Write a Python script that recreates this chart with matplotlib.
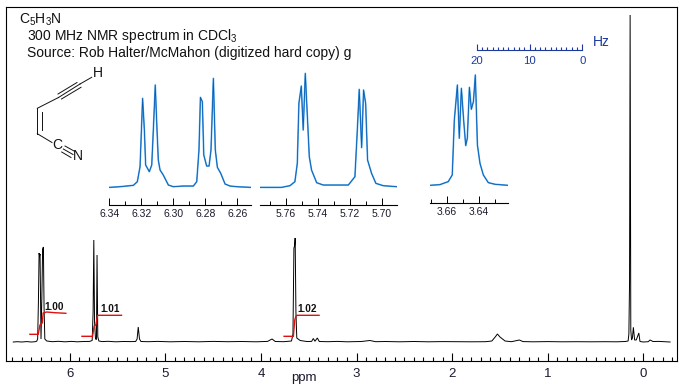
import matplotlib
matplotlib.use('Agg')
import matplotlib.pyplot as plt

plt.rcParams['font.family'] = ['Liberation Sans', 'DejaVu Sans']
plt.rcParams['mathtext.fontset'] = 'custom'
plt.rcParams['mathtext.rm'] = 'Liberation Sans'

W, H = 686, 388

# full spectrum
main_ppm = [6.59, 6.55, 6.50, 6.45, 6.40, 6.36, 6.345, 6.335, 6.327, 6.32, 6.315, 6.31, 6.30, 6.291, 6.283, 6.275,
            6.268, 6.26, 6.24, 6.18, 6.12, 6.05, 5.98, 5.92, 5.85, 5.79, 5.765, 5.755, 5.7477, 5.74, 5.73, 5.72,
            5.714, 5.706, 5.695, 5.66, 5.60, 5.52, 5.44, 5.36, 5.31, 5.295, 5.283, 5.27, 5.255, 5.18, 5.08, 4.95,
            4.8, 4.65, 4.5, 4.35, 4.2, 4.05, 3.93, 3.884, 3.85, 3.76, 3.68, 3.665, 3.655, 3.648, 3.642, 3.634,
            3.625, 3.59, 3.52, 3.47, 3.452, 3.435, 3.41, 3.39, 3.3, 3.2, 3.1, 2.95, 2.86, 2.8, 2.7, 2.55, 2.4,
            2.25, 2.1, 1.95, 1.8, 1.65, 1.585, 1.55, 1.527, 1.50, 1.447, 1.38, 1.297, 1.26, 1.15, 1.0, 0.85, 0.7,
            0.55, 0.4, 0.28, 0.19, 0.16, 0.152, 0.145, 0.139, 0.132, 0.124, 0.115, 0.105, 0.092, 0.075, 0.048,
            0.036, 0.0, -0.05, -0.07, -0.1, -0.16, -0.22, -0.279]
main_h = [0, 0.3, 0, 0.4, 0, 0.3, 0.8, 3, 40, 89, 86, 88, 3, 45, 93, 95,
          35, 3, 1, 0.3, 0.7, 0.2, 0.6, 0.2, 0.5, 0.6, 1.5, 30, 102, 20, 3, 2.5,
          87, 5, 1, 0.4, 0.7, 0.2, 0.5, 0.4, 0.5, 3, 15, 3, 0.5, 0.3, 0.6, 0.2,
          0.5, 0.2, 0.6, 0.3, 0.5, 0.2, 0.6, 3, 0.5, 0.3, 1, 8, 94, 96, 104, 30,
          4, 1.5, 0.5, 0.6, 3.5, 0.7, 4, 0.5, 0.3, 0.6, 0.2, 0.5, 1.5, 0.3, 0.5, 0.2, 0.5,
          0.2, 0.4, 0.3, 0.2, 0.3, 1, 5, 8, 5, 1, 0.3, 2, 0.4, 0.2, 0.4, 0.2, 0.3,
          0.2, 0.3, 0.2, 0.5, 1, 8, 60, 327, 12, 2, 4, 14.7, 2, 2, 9,
          0.5, 0, 0.3, 2, 0.5, 0.6, 0.3, 0]
main_ticks = [6, 5, 4, 3, 2, 1, 0]

# integrals
int1_ppm = [6.416, 6.329, 6.311, 6.287, 6.277, 6.241, 6.155, 6.040]
int1_h = [7.7, 7.7, 17, 19, 29, 30, 29.3, 28.7]
int2_ppm = [5.872, 5.761, 5.744, 5.726, 5.709, 5.458]
int2_h = [5.7, 5.7, 16, 17, 26.7, 26.7]
int3_ppm = [3.758, 3.661, 3.646, 3.633, 3.619, 3.392]
int3_h = [5.7, 5.7, 22, 26, 26.7, 26.7]
int_labels = ['1.00', '1.01', '1.02']

# expansions
zoom1_ppm = [6.3400, 6.3365, 6.3333, 6.3292, 6.3250, 6.3225, 6.3208, 6.3192, 6.3181, 6.3173, 6.3150, 6.3135, 6.3125,
             6.3113, 6.3102, 6.3094, 6.3083, 6.3063, 6.3031, 6.3000, 6.2938, 6.2875, 6.2854, 6.2840, 6.2831, 6.2819,
             6.2810, 6.2792, 6.2777, 6.2765, 6.2750, 6.2738, 6.2725, 6.2704, 6.2677, 6.2646, 6.2604, 6.2563, 6.2517]
zoom1_h = [0, 1, 2, 4, 6, 17, 62, 267, 172, 67, 47, 67, 172, 307, 172, 82, 52, 37, 7, 2, 4, 4, 17, 112, 270, 257,
           97, 64, 64, 112, 327, 112, 60, 42, 10, 4, 2, 1, 0]
zoom2_ppm = [5.7760, 5.7625, 5.7573, 5.7542, 5.7527, 5.7517, 5.7502, 5.7490, 5.7477, 5.7465, 5.7452, 5.7438, 5.7406,
             5.7365, 5.7208, 5.7167, 5.7152, 5.7140, 5.7125, 5.7113, 5.7100, 5.7088, 5.7063, 5.7036, 5.6990, 5.6906]
zoom2_h = [0, 0, 5, 17, 72, 252, 304, 172, 342, 222, 92, 52, 14, 7, 7, 32, 172, 294, 119, 292, 252, 82, 42, 12, 5, 2]
zoom3_ppm = [3.6702, 3.6642, 3.6590, 3.6565, 3.6552, 3.6533, 3.6521, 3.6508, 3.6494, 3.6481, 3.6471, 3.6458, 3.6446,
             3.6433, 3.6421, 3.6408, 3.6392, 3.6371, 3.6340, 3.6298, 3.6219]
zoom3_h = [0, 2, 11, 31, 196, 301, 141, 291, 196, 119, 141, 294, 228, 251, 331, 121, 66, 31, 8, 3, 0]

hz_major = [20, 10, 0]

NAVY = '#1c3a9c'
TXT = '#1a1a2e'


def ax_px(x0, y0, x1, y1):
    return fig.add_axes([x0 / W, 1 - y1 / H, (x1 - x0) / W, (y1 - y0) / H])


fig = plt.figure(figsize=(W / 100, H / 100), dpi=100, facecolor='white')

# main axes, frame is the axes box
ax = ax_px(6, 7.3, 676.5, 361)
ax.plot(main_ppm, main_h, color='black', lw=0.7, solid_joinstyle='miter')
ax.set_xlim(6.666, -0.346)
ax.set_ylim(-19, 334.7)
ax.set_yticks([])
ax.set_xticks(main_ticks)
ax.set_xticks([t / 10 for t in range(-3, 67)], minor=True)
ax.tick_params(axis='x', which='major', direction='in', length=5.6, width=0.8, pad=5, labelsize=9.5, labelcolor=TXT)
ax.tick_params(axis='x', which='minor', direction='in', length=3.1, width=0.8)
for s in ax.spines.values():
    s.set_linewidth(0.8)

for p, h, lab in zip([int1_ppm, int2_ppm, int3_ppm], [int1_h, int2_h, int3_h], int_labels):
    ax.plot(p, h, color='#e01010', lw=1.0, solid_joinstyle='miter')
    ax.text(p[-1] + 0.02, h[-1] + 1.2, lab, fontsize=7.2, fontweight='bold', color='#111111', ha='right', va='bottom')


def make_zoom(rect, ppm, hh, xlim, ylim, ticks, minor):
    a = ax_px(*rect)
    a.patch.set_alpha(0)
    a.plot(ppm, hh, color='#5aaef0', lw=1.2, solid_joinstyle='round')
    a.plot(ppm, hh, color='#0a5cb0', lw=0.6, solid_joinstyle='round')
    a.set_xlim(*xlim)
    a.set_ylim(*ylim)
    a.set_yticks([])
    a.set_xticks(ticks)
    a.set_xticklabels(['%.2f' % t for t in ticks])
    a.set_xticks(minor, minor=True)
    a.tick_params(axis='x', which='major', direction='in', length=5.2, width=0.7, pad=3, labelsize=7.5, labelcolor=TXT)
    a.tick_params(axis='x', which='minor', direction='in', length=3, width=0.7)
    for k in ['top', 'left', 'right']:
        a.spines[k].set_visible(False)
    a.spines['bottom'].set_linewidth(0.8)
    return a


make_zoom((109.3, 70, 250.7, 204.7), zoom1_ppm, zoom1_h, (6.34, 6.2517), (-52, 352),
          [6.34, 6.32, 6.30, 6.28, 6.26], [6.33, 6.31, 6.29, 6.27])
make_zoom((260, 70, 396.7, 204.7), zoom2_ppm, zoom2_h, (5.7760, 5.6906), (-52, 352),
          [5.76, 5.74, 5.72, 5.70], [5.77, 5.75, 5.73, 5.71])
make_zoom((430.3, 63.3, 507.7, 203.3), zoom3_ppm, zoom3_h, (3.6702, 3.6219), (-54, 366),
          [3.66, 3.64], [3.67, 3.65, 3.63])

# Hz scale
hz = ax_px(476.7, 30, 582.3, 50)
hz.patch.set_alpha(0)
hz.set_xlim(20, 0)
hz.set_ylim(0, 1)
hz.set_yticks([])
hz.set_xticks(hz_major)
hz.set_xticks(range(0, 21), minor=True)
hz.tick_params(axis='x', which='major', direction='in', length=4.4, width=0.8, color=NAVY, pad=4.5, labelsize=8.2, labelcolor=NAVY)
hz.tick_params(axis='x', which='minor', direction='in', length=2.2, width=0.8, color=NAVY)
for k in ['top', 'left', 'right']:
    hz.spines[k].set_visible(False)
hz.spines['bottom'].set_color(NAVY)
hz.spines['bottom'].set_linewidth(0.8)

# text and structure on a pixel overlay
ov = fig.add_axes([0, 0, 1, 1])
ov.set_xlim(0, W)
ov.set_ylim(H, 0)
ov.axis('off')
ov.patch.set_alpha(0)
ov.text(304, 378, 'ppm', fontsize=9.5, color=TXT, ha='center', va='center')
ov.text(601, 42, 'Hz', fontsize=10, color=NAVY, ha='center', va='center')
ov.text(19, 19.5, r'C$_5$H$_3$N', fontsize=10, color='#111111', ha='left', va='center')
ov.text(27, 36, r'300 MHz NMR spectrum in CDCl$_3$', fontsize=10, color='#111111', ha='left', va='center')
ov.text(27, 53, 'Source: Rob Halter/McMahon (digitized hard copy) g', fontsize=10, color='#111111', ha='left', va='center')

bonds = [((91.7, 77.3), (80, 84)), ((58.5, 97.5), (80, 84)), ((58, 94), (77, 82.5)), ((61.5, 99), (81, 87.3)),
         ((58.5, 97.5), (37.3, 108.3)), ((37.3, 108.3), (37.3, 133.7)), ((41.7, 112), (41.7, 130)),
         ((37.3, 133.7), (52, 142.5)), ((63.3, 149), (73, 154.5)), ((65, 146), (74, 151)), ((61.7, 152), (71, 157.5))]
for a, b in bonds:
    ov.plot([a[0], b[0]], [a[1], b[1]], color='#111111', lw=0.7)
ov.text(98, 73, 'H', fontsize=10, color='#111111', ha='center', va='center')
ov.text(57.5, 145, 'C', fontsize=10, color='#111111', ha='center', va='center')
ov.text(77.5, 156, 'N', fontsize=10, color='#111111', ha='center', va='center')

fig.savefig('out.png', dpi=100, facecolor='white')
